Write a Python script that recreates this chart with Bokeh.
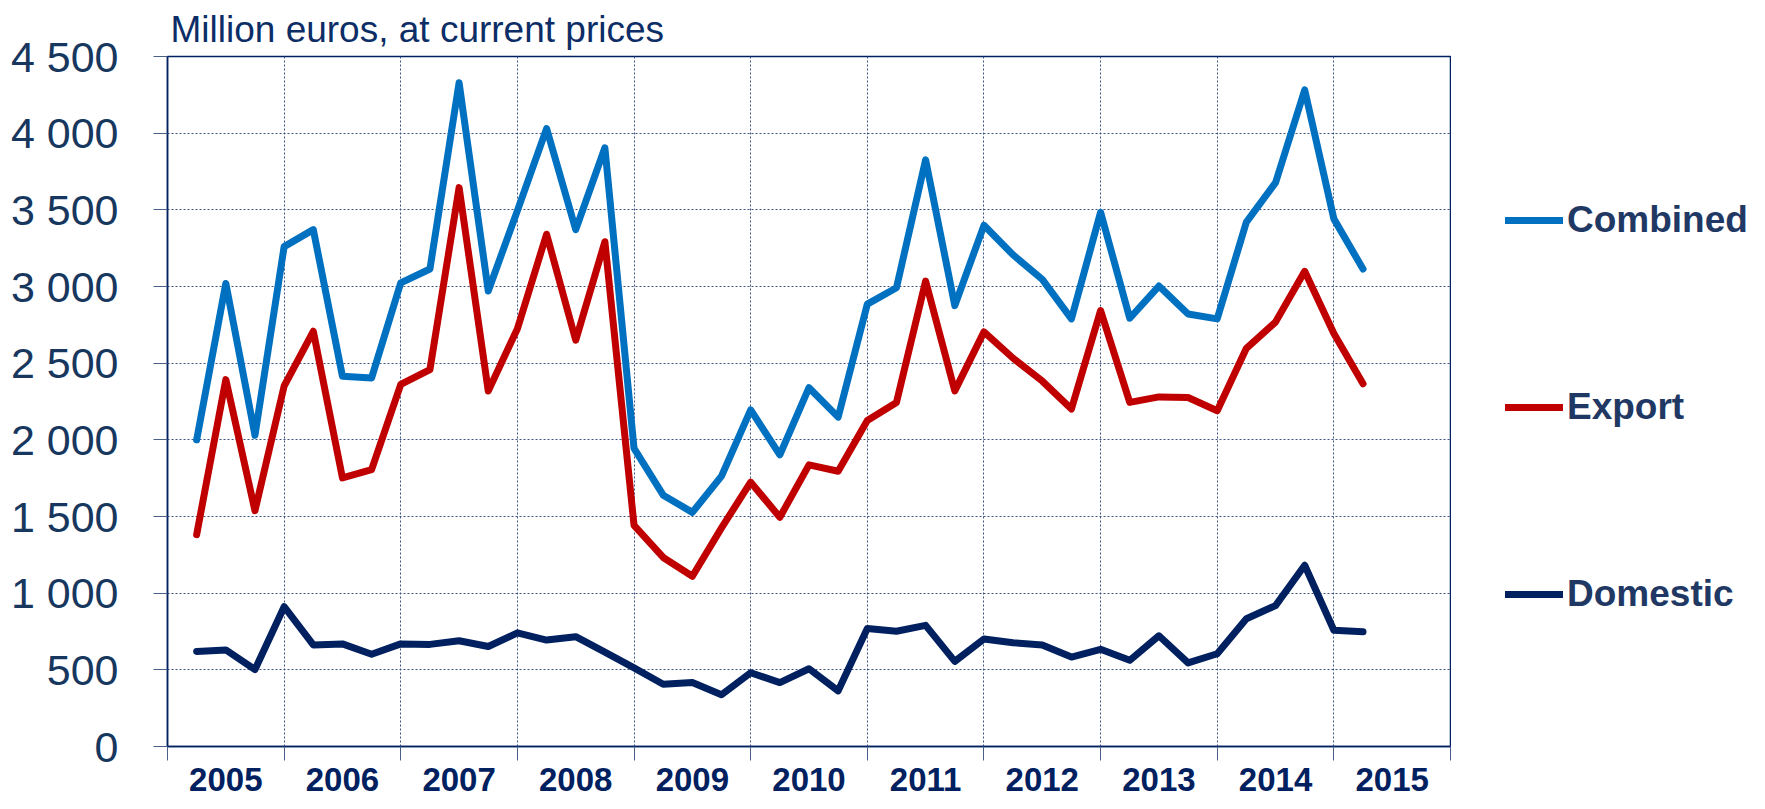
from bokeh.plotting import figure
from bokeh.models import FixedTicker, Legend, LegendItem, Range1d
from bokeh.layouts import row
from bokeh.embed import file_html
from bokeh.resources import INLINE

# ---- data -------------------------------------------------------------
years = [2005, 2006, 2007, 2008, 2009, 2010, 2011, 2012, 2013, 2014, 2015]
quarter_labels = [f"{y} Q{q}" for y in years for q in (1, 2, 3, 4)][:41]

combined = [2000, 3020, 2030, 3260, 3371, 2415, 2404, 3024, 3114, 4329,
            2971, 3495, 4030, 3371, 3905, 1944, 1639, 1527, 1763, 2195,
            1902, 2340, 2148, 2885, 2992, 3826, 2875, 3399, 3206, 3046,
            2789, 3484, 2793, 3003, 2821, 2789, 3420, 3677, 4282, 3441, 3114]
export = [1382, 2393, 1538, 2351, 2708, 1752, 1805, 2361, 2458, 3645,
          2319, 2725, 3341, 2650, 3292, 1442, 1233, 1110, 1426, 1724,
          1495, 1837, 1795, 2126, 2244, 3035, 2319, 2704, 2532, 2383,
          2201, 2843, 2244, 2280, 2276, 2190, 2597, 2768, 3099, 2693, 2366]
domestic = [620, 630, 502, 912, 662, 669, 602, 669, 666, 690,
            652, 741, 694, 716, 615, 513, 406, 417, 337, 481,
            417, 507, 363, 769, 752, 790, 555, 701, 677, 662,
            583, 634, 562, 722, 545, 605, 833, 919, 1182, 758, 748]

series_names = ["Combined", "Export", "Domestic"]
series_colors = ["#0070C0", "#C00000", "#002060"]

y_ticks = [0, 500, 1000, 1500, 2000, 2500, 3000, 3500, 4000, 4500]
y_tick_labels = ["0", "500", "1 000", "1 500", "2 000", "2 500",
                 "3 000", "3 500", "4 000", "4 500"]
title_text = "Million euros, at current prices"

# quarter positions: end of each quarter
x = [int(s.split()[0]) + int(s.split()[1][1]) / 4 for s in quarter_labels]

NAVY = "#002060"
TXT = "#17375E"
FONT = "Liberation Sans"
H = 793

p = figure(width=1451, height=H, output_backend="svg", toolbar_location=None,
           x_range=Range1d(2005, 2016), y_range=Range1d(0, 4500),
           min_border_left=167, min_border_right=1,
           min_border_top=56, min_border_bottom=40)

p.background_fill_color = "white"
p.border_fill_color = "white"
p.outline_line_color = NAVY
p.outline_line_width = 1.5

# title
p.title.text = title_text
p.title.text_font = FONT
p.title.text_font_size = "37px"
p.title.text_font_style = "normal"
p.title.text_color = "#0C2D66"
p.title.align = "left"
p.title.offset = 3
p.title.standoff = 13

# y axis
p.yaxis.ticker = FixedTicker(ticks=y_ticks)
p.yaxis.major_label_overrides = {t: l for t, l in zip(y_ticks, y_tick_labels)}
p.yaxis.major_label_text_font = FONT
p.yaxis.major_label_text_font_size = "43px"
p.yaxis.major_label_text_color = TXT
p.yaxis.major_tick_out = 14
p.yaxis.major_tick_in = 0
p.yaxis.major_tick_line_color = "#4A5F8A"
p.yaxis.minor_tick_line_color = None
p.yaxis.major_label_standoff = 35
p.yaxis.axis_line_color = NAVY
p.yaxis.axis_line_width = 1.5

# x axis: labels at year centres, ticks at year boundaries
year_centers = [y + 0.5 for y in years]
year_bounds = years + [years[-1] + 1]
p.xaxis.ticker = FixedTicker(ticks=year_centers, minor_ticks=year_bounds)
p.xaxis.major_label_overrides = {c: str(y) for c, y in zip(year_centers, years)}
p.xaxis.major_label_text_font = FONT
p.xaxis.major_label_text_font_size = "33px"
p.xaxis.major_label_text_font_style = "bold"
p.xaxis.major_label_text_color = NAVY
p.xaxis.major_tick_out = 0
p.xaxis.major_tick_in = 0
p.xaxis.major_tick_line_color = None
p.xaxis.minor_tick_out = 14
p.xaxis.minor_tick_in = 0
p.xaxis.minor_tick_line_color = "#4A5F8A"
p.xaxis.minor_tick_line_width = 1
p.xaxis.major_label_standoff = 7
p.xaxis.axis_line_color = NAVY
p.xaxis.axis_line_width = 1.5

# grids
p.xgrid.ticker = FixedTicker(ticks=year_bounds[1:-1])
p.ygrid.ticker = FixedTicker(ticks=y_ticks[1:-1])
for g in (p.xgrid, p.ygrid):
    g.grid_line_color = "#3B5282"
    g.grid_line_dash = "2 2"
    g.grid_line_width = 1

# lines
for name, vals, col in zip(series_names, [combined, export, domestic], series_colors):
    p.line(x, vals, line_width=7, line_color=col,
           line_cap="round", line_join="round")

# ---- legend panel (separate figure on the right) -----------------------
q = figure(width=298, height=H, output_backend="svg", toolbar_location=None,
           x_range=Range1d(0, 1), y_range=Range1d(0, 1),
           x_axis_location=None, y_axis_location=None, min_border=0)
q.outline_line_color = None
q.grid.visible = False
q.background_fill_color = "white"
q.border_fill_color = "white"

# key renderers: a single off-range point each, only used for the legend swatches
leg_renderers = [q.line([0.5], [-10], line_width=7, line_color=col, line_cap="round")
                 for col in series_colors]
legend = Legend(items=[LegendItem(label=n, renderers=[r]) for n, r in zip(series_names, leg_renderers)],
                location=(54, 131), orientation="vertical",
                glyph_width=58, glyph_height=42, label_height=42,
                label_standoff=4, spacing=145, padding=0, margin=0,
                border_line_color=None, background_fill_alpha=0,
                label_text_font=FONT, label_text_font_size="37px",
                label_text_font_style="bold", label_text_color="#1F3864")
q.add_layout(legend, "center")

layout = row(p, q, spacing=0)
open("out.html", "w").write(file_html(layout, INLINE))
